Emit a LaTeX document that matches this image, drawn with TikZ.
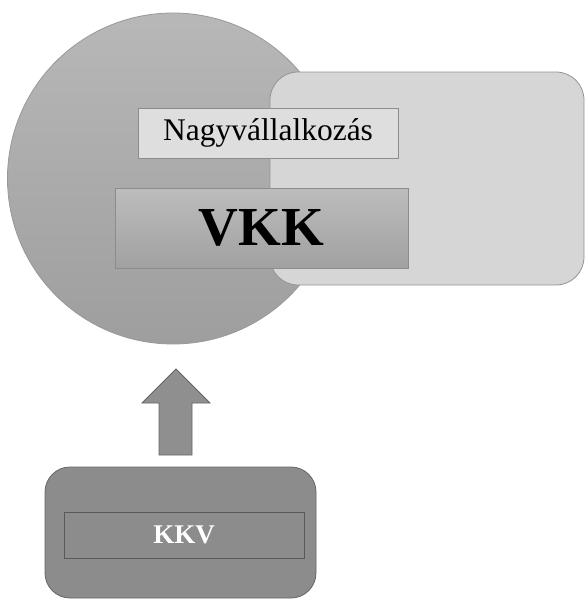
\documentclass[tikz,border=0pt]{standalone}
\usepackage{fontspec}
\setmainfont{Liberation Serif}
\begin{document}
\begin{tikzpicture}[x=1pt,y=-1pt,
  box/.style={rectangle,inner sep=0pt,line width=0.8pt},
  lightbox/.style={box,draw=black!45,fill=black!13},
  darkbox/.style={box,draw=black!60,fill=black!45}]
\useasboundingbox (0,0) rectangle (585,600);
% big circle
\node[circle,inner sep=0pt,minimum size=331pt,draw=black!40,line width=0.8pt,
  top color=black!28,bottom color=black!38] (circ) at (173,178.5) {};
% light rounded rectangle
\node[box,rounded corners=28pt,draw=black!42,fill=black!16,
  minimum width=314pt,minimum height=213pt] (rect) at (427,178.5) {};
% Nagyvallalkozas box
\node[lightbox,minimum width=260pt,minimum height=50pt,font=\fontsize{31.5}{34}\selectfont]
  (nagy) at (268,133) {Nagyvállalkozás};
% VKK box
\node[box,draw=black!45,top color=black!26,bottom color=black!37,
  minimum width=293pt,minimum height=80pt,font=\fontsize{55}{60}\selectfont\bfseries]
  (vkk) at (261.5,228) {VKK};
% arrow
\coordinate (tip) at (176,369);
\draw[line width=0.8pt,draw=black!60,fill=black!44]
  (tip) -- (210,403) -- (192,403) -- (192,455) -- (159,455) -- (159,403) -- (142,403) -- cycle;
% KKV outer rounded rect
\node[darkbox,rounded corners=25pt,minimum width=271pt,minimum height=131pt]
  (kkvout) at (180.5,532.5) {};
% KKV inner rect
\node[darkbox,draw=black!65,minimum width=240pt,minimum height=46pt,
  text=white,font=\fontsize{27}{30}\selectfont\bfseries] (kkv) at (184,535) {KKV};
\end{tikzpicture}
\end{document}
